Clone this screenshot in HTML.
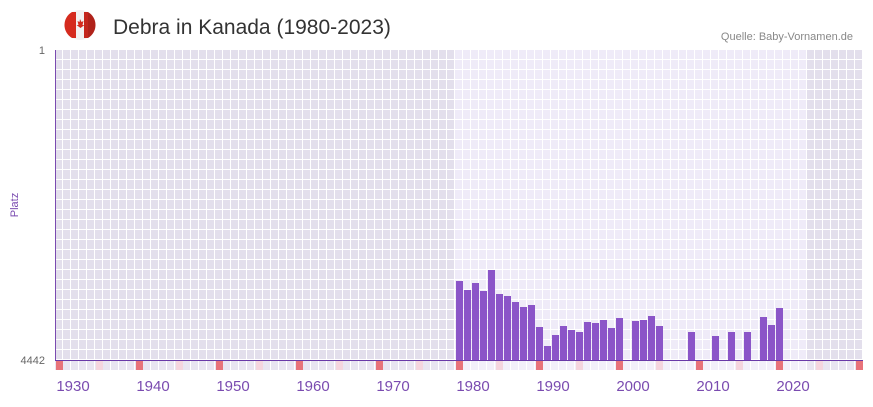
<!DOCTYPE html>
<html><head><meta charset="utf-8"><style>
body{margin:0;background:#fff;width:873px;height:402px;overflow:hidden;font-family:"Liberation Sans",sans-serif}
</style></head><body>
<svg width="873" height="402" xmlns="http://www.w3.org/2000/svg" font-family="Liberation Sans, sans-serif">
<defs>
<pattern id="gd" x="55" y="50" width="8" height="10" patternUnits="userSpaceOnUse">
<rect width="8" height="10" fill="#fff"/><rect x="0" y="0" width="7" height="9" fill="#e3dfec"/></pattern>
<pattern id="gl" x="55" y="50" width="8" height="10" patternUnits="userSpaceOnUse">
<rect width="8" height="10" fill="#fff"/><rect x="0" y="0" width="7" height="9" fill="#efebf8"/></pattern>
<pattern id="sd" x="55" y="361" width="8" height="10" patternUnits="userSpaceOnUse">
<rect width="8" height="10" fill="#fff"/><rect x="0" y="0" width="7" height="9" fill="#e9e5f1"/></pattern>
<pattern id="sl" x="55" y="361" width="8" height="10" patternUnits="userSpaceOnUse">
<rect width="8" height="10" fill="#fff"/><rect x="0" y="0" width="7" height="9" fill="#f3f0fa"/></pattern>
</defs>
<circle cx="80" cy="25" r="15" fill="#f2f2f2"/>
<path d="M72,12 A15,15 0 0 0 72,38 Z" fill="#d52b1e"/>
<path d="M88,12 A15,15 0 0 1 88,38 Z" fill="#b0221a"/>
<rect x="72" y="12" width="4" height="26" fill="#d52b1e"/><rect x="84" y="12" width="4" height="26" fill="#c4261c"/>
<path d="M80,19 l1.5,3 2,-1 -1,4 2,0 -4,3 -4,-3 2,0 -1,-4 2,1z" fill="#d52b1e"/>
<text x="113" y="34" font-size="21" fill="#333">Debra in Kanada (1980-2023)</text>
<text x="853" y="40" font-size="11" fill="#888" text-anchor="end">Quelle: Baby-Vornamen.de</text>
<rect x="55" y="50" width="808" height="310" fill="url(#gd)"/>
<rect x="455" y="50" width="352" height="310" fill="url(#gl)"/>
<rect x="55" y="361" width="808" height="9" fill="url(#sd)"/>
<rect x="455" y="361" width="352" height="9" fill="url(#sl)"/>
<g fill="#e8737a">
<rect x="56" y="361" width="7" height="9"/><rect x="136" y="361" width="7" height="9"/><rect x="216" y="361" width="7" height="9"/><rect x="296" y="361" width="7" height="9"/><rect x="376" y="361" width="7" height="9"/><rect x="456" y="361" width="7" height="9"/><rect x="536" y="361" width="7" height="9"/><rect x="616" y="361" width="7" height="9"/><rect x="696" y="361" width="7" height="9"/><rect x="776" y="361" width="7" height="9"/><rect x="856" y="361" width="7" height="9"/>
</g>
<g fill="#f5d5de">
<rect x="96" y="361" width="7" height="9"/><rect x="176" y="361" width="7" height="9"/><rect x="256" y="361" width="7" height="9"/><rect x="336" y="361" width="7" height="9"/><rect x="416" y="361" width="7" height="9"/><rect x="496" y="361" width="7" height="9"/><rect x="576" y="361" width="7" height="9"/><rect x="656" y="361" width="7" height="9"/><rect x="736" y="361" width="7" height="9"/><rect x="816" y="361" width="7" height="9"/>
</g>
<line x1="55.5" y1="50" x2="55.5" y2="361" stroke="#7a4bb0" stroke-width="1"/>
<g fill="#8b55c8">
<rect x="456" y="281" width="7" height="79"/><rect x="464" y="290" width="7" height="70"/><rect x="472" y="283" width="7" height="77"/><rect x="480" y="291" width="7" height="69"/><rect x="488" y="270" width="7" height="90"/><rect x="496" y="294" width="7" height="66"/><rect x="504" y="296" width="7" height="64"/><rect x="512" y="302" width="7" height="58"/><rect x="520" y="307" width="7" height="53"/><rect x="528" y="305" width="7" height="55"/><rect x="536" y="327" width="7" height="33"/><rect x="544" y="346" width="7" height="14"/><rect x="552" y="335" width="7" height="25"/><rect x="560" y="326" width="7" height="34"/><rect x="568" y="330" width="7" height="30"/><rect x="576" y="332" width="7" height="28"/><rect x="584" y="322" width="7" height="38"/><rect x="592" y="323" width="7" height="37"/><rect x="600" y="320" width="7" height="40"/><rect x="608" y="328" width="7" height="32"/><rect x="616" y="318" width="7" height="42"/>
<rect x="632" y="321" width="7" height="39"/><rect x="640" y="320" width="7" height="40"/><rect x="648" y="316" width="7" height="44"/><rect x="656" y="326" width="7" height="34"/>
<rect x="688" y="332" width="7" height="28"/><rect x="712" y="336" width="7" height="24"/><rect x="728" y="332" width="7" height="28"/><rect x="744" y="332" width="7" height="28"/><rect x="760" y="317" width="7" height="43"/><rect x="768" y="325" width="7" height="35"/><rect x="776" y="308" width="7" height="52"/>
</g>
<line x1="55" y1="360.5" x2="863" y2="360.5" stroke="#6a3aa8" stroke-width="1"/>
<text x="45" y="54" font-size="11" fill="#666" text-anchor="end">1</text>
<text x="45" y="364" font-size="11" fill="#666" text-anchor="end">4442</text>
<text x="18" y="205" font-size="11" fill="#7a4bb0" text-anchor="middle" transform="rotate(-90 18 205)">Platz</text>
<g font-size="15" fill="#7a4bb0" text-anchor="middle">
<text x="73" y="391">1930</text><text x="153" y="391">1940</text><text x="233" y="391">1950</text><text x="313" y="391">1960</text><text x="393" y="391">1970</text><text x="473" y="391">1980</text><text x="553" y="391">1990</text><text x="633" y="391">2000</text><text x="713" y="391">2010</text><text x="793" y="391">2020</text>
</g>
</svg>
</body></html>
